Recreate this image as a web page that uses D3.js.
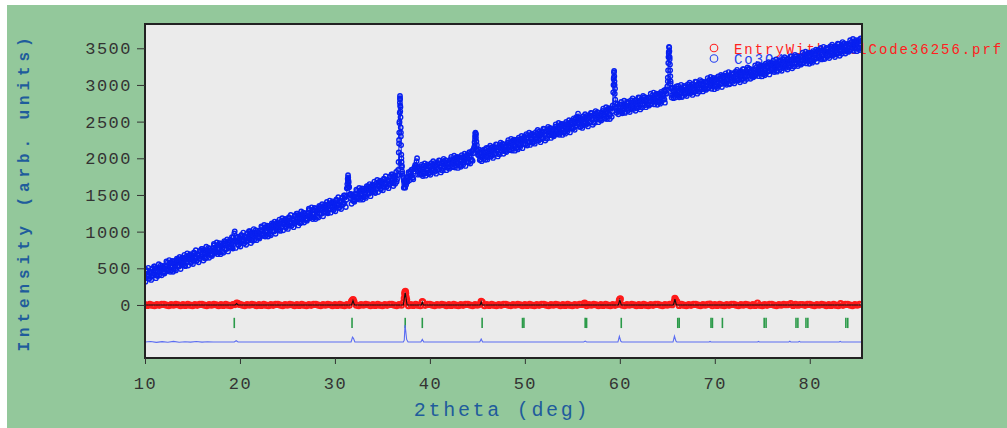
<!DOCTYPE html>
<html>
<head>
<meta charset="utf-8">
<script src="https://cdn.jsdelivr.net/npm/d3@7"></script>
<style>
  body { margin: 0; background: #fff; }
  text { font-family: "Liberation Mono", "DejaVu Sans Mono", monospace; }
</style>
</head>
<body>
<script>
// observed counts, 2theta from 10.00 step 0.1 (one row per degree)
var obsStart = 10, obsStep = 0.1;
var obsCounts = [
  425,365,465,404,359,459,434,389,498,423,
  418,503,403,477,507,407,497,477,531,456,
  506,451,541,575,490,475,575,515,474,569,
  489,569,544,603,528,628,523,593,612,547,
  632,582,542,631,666,586,616,676,585,645,
  665,605,705,644,599,699,674,629,738,663,
  658,743,643,717,747,647,737,717,771,696,
  746,691,781,815,730,715,815,755,714,809,
  729,809,784,843,768,868,763,833,852,787,
  872,822,782,921,976,866,856,916,825,885,
  905,845,945,884,839,939,914,869,978,903,
  898,983,883,957,987,887,977,957,1011,936,
  986,931,1021,1055,970,955,1055,995,954,1049,
  969,1049,1024,1083,1008,1108,1003,1073,1092,1027,
  1112,1062,1022,1111,1146,1066,1096,1156,1065,1125,
  1145,1085,1185,1124,1079,1179,1154,1109,1218,1143,
  1138,1223,1123,1197,1227,1127,1217,1197,1251,1176,
  1226,1171,1261,1295,1210,1195,1295,1235,1194,1289,
  1209,1289,1264,1323,1248,1348,1243,1313,1332,1267,
  1352,1302,1262,1351,1386,1306,1336,1396,1305,1365,
  1385,1326,1426,1367,1323,1424,1399,1355,1466,1391,
  1387,1473,1433,1649,1740,1606,1511,1452,1508,1433,
  1484,1430,1520,1556,1472,1458,1558,1499,1460,1555,
  1476,1557,1532,1593,1519,1620,1515,1586,1607,1542,
  1628,1579,1539,1630,1666,1587,1617,1678,1589,1649,
  1670,1611,1711,1652,1608,1709,1684,1640,1751,1676,
  1672,1758,1658,1734,1765,1681,1770,1950,2500,2700,
  2000,1790,1730,1650,1600,1640,1745,1735,1790,1760,
  1760,1843,1742,1815,1884,1852,1960,1879,1862,1786,
  1834,1777,1866,1899,1813,1796,1894,1833,1791,1885,
  1803,1881,1855,1913,1837,1935,1828,1897,1915,1849,
  1932,1880,1839,1927,1961,1879,1907,1966,1874,1933,
  1951,1889,1988,1926,1880,1978,1951,1905,2013,1937,
  1930,2013,1912,1985,2014,1912,2000,1979,2032,1956,
  2004,1947,2036,2069,1983,1966,2125,2220,2350,2230,
  2110,2040,2065,1985,2070,2015,2090,2030,2085,2020,
  2012,2091,2065,2125,2049,2148,2043,2112,2131,2066,
  2150,2099,2058,2148,2182,2101,2131,2190,2099,2159,
  2178,2117,2216,2156,2110,2209,2184,2138,2247,2172,
  2166,2250,2149,2224,2253,2152,2242,2221,2275,2200,
  2249,2193,2282,2317,2231,2215,2315,2254,2213,2308,
  2227,2306,2280,2340,2264,2363,2258,2327,2346,2281,
  2365,2314,2273,2363,2397,2316,2346,2405,2314,2374,
  2393,2332,2431,2371,2325,2424,2399,2353,2462,2387,
  2381,2465,2364,2439,2468,2367,2457,2436,2490,2415,
  2464,2408,2497,2532,2446,2470,2610,2509,2428,2523,
  2442,2521,2495,2555,2479,2578,2473,2542,2561,2496,
  2580,2529,2488,2578,2612,2531,2561,2620,2529,2589,
  2608,2547,2646,2586,2540,2639,2614,2568,2677,2602,
  2596,2680,2640,2900,3190,2950,2700,2650,2700,2640,
  2649,2733,2631,2705,2733,2632,2721,2699,2753,2676,
  2725,2668,2757,2791,2704,2688,2786,2725,2683,2777,
  2695,2774,2748,2806,2730,2828,2722,2791,2809,2743,
  2826,2775,2733,2822,2855,2774,2803,2861,2770,2828,
  2847,2785,2884,2822,2776,2875,2848,2802,2910,2880,
  2980,3300,3510,3200,2950,2860,2920,2850,2930,2870,
  2867,2950,2849,2922,2951,2849,2938,2916,2970,2893,
  2941,2885,2973,3007,2920,2904,3002,2941,2899,2992,
  2911,2989,2963,3021,2945,3043,2937,3005,3023,2957,
  3040,2989,2947,3036,3069,2988,3016,3074,2983,3041,
  3060,2998,3097,3035,2989,3087,3060,3014,3122,3046,
  3039,3123,3021,3095,3123,3021,3110,3088,3142,3065,
  3114,3057,3146,3179,3092,3076,3174,3113,3071,3165,
  3083,3162,3135,3193,3117,3215,3109,3177,3196,3129,
  3213,3161,3119,3208,3241,3160,3188,3247,3155,3214,
  3232,3171,3269,3207,3161,3259,3233,3186,3295,3218,
  3212,3295,3193,3267,3295,3194,3282,3261,3314,3238,
  3286,3230,3318,3351,3265,3248,3347,3285,3244,3337,
  3256,3334,3307,3366,3289,3388,3281,3350,3368,3302,
  3385,3334,3292,3380,3414,3332,3361,3419,3328,3386,
  3405,3343,3441,3380,3333,3432,3405,3359,3467,3391,
  3384,3468,3366,3439,3468,3366,3455,3433,3487,3410,
  3459,3402,3490,3524,3437,3421,3519,3458,3416,3510,
  3428,3507,3480,3538,3462,3560,3454,3522,3541,3474,
  3558,3506,3464,3553,3586,3505,3533,3592,3500,3559,
  3577,3516,3614,3552,3506
];
// interleaved observed counts, 2theta from 10.05 step 0.1
var obsStartB = 10.05;
var obsCountsB = [
  317,477,392,507,362,456,341,491,401,526,
  525,365,500,395,555,449,539,404,509,439,
  428,538,593,463,503,612,452,577,602,452,
  596,486,471,631,591,530,655,490,620,650,
  554,684,529,579,704,538,638,693,573,683,
  557,717,632,747,602,696,581,731,641,766,
  765,605,740,635,795,689,779,644,749,679,
  668,778,833,703,743,852,692,817,842,692,
  836,726,711,871,831,770,895,730,860,890,
  794,924,769,879,1004,778,878,933,813,923,
  797,957,872,987,842,936,821,971,881,1006,
  1005,845,980,875,1035,929,1019,884,989,919,
  908,1018,1073,943,983,1092,932,1057,1082,932,
  1076,966,951,1111,1071,1010,1135,970,1100,1130,
  1034,1164,1009,1059,1184,1018,1118,1173,1053,1163,
  1037,1197,1112,1227,1082,1176,1061,1211,1121,1246,
  1245,1085,1220,1115,1275,1169,1259,1124,1229,1159,
  1148,1258,1313,1183,1223,1332,1172,1297,1322,1172,
  1316,1206,1191,1351,1311,1250,1375,1210,1340,1370,
  1274,1404,1249,1299,1424,1258,1358,1413,1293,1403,
  1278,1439,1354,1470,1326,1421,1307,1458,1369,1494,
  1495,1336,1591,1717,1673,1504,1514,1380,1486,1416,
  1407,1518,1573,1444,1485,1596,1436,1562,1588,1438,
  1584,1475,1460,1621,1582,1523,1648,1484,1615,1645,
  1551,1682,1527,1578,1704,1540,1640,1696,1577,1687,
  1563,1724,1639,1755,1611,1707,1592,1743,1654,1779,
  1780,1621,1756,1652,1813,1715,1840,2250,2820,2350,
  1900,1760,1690,1610,1660,1700,1680,1810,1700,1820,
  1842,1730,1714,1872,1911,1899,2002,1776,1854,1883,
  1786,1914,1758,1806,1930,1763,1861,1915,1793,1902,
  1775,1933,1847,1960,1814,1907,1790,1939,1847,1971,
  1969,1807,1941,1834,1993,1886,1974,1838,1941,1870,
  1858,1966,2020,1888,1927,2035,1873,1997,2020,1869,
  2012,1900,1884,2042,2001,1939,2062,1896,2024,2053,
  1956,2084,1928,1976,2100,2070,2150,2260,2330,2180,
  2050,2120,1975,2020,1960,2110,1990,2120,1980,2140,
  1984,2143,2057,2172,2026,2120,2005,2154,2063,2188,
  2187,2026,2160,2055,2214,2108,2198,2062,2166,2096,
  2085,2194,2248,2118,2157,2266,2106,2230,2254,2104,
  2248,2137,2121,2281,2240,2179,2304,2138,2267,2297,
  2201,2330,2174,2224,2348,2182,2282,2336,2215,2325,
  2199,2358,2272,2387,2241,2335,2220,2369,2278,2403,
  2402,2241,2375,2270,2429,2323,2413,2277,2381,2311,
  2300,2409,2463,2333,2372,2481,2321,2445,2469,2319,
  2463,2352,2336,2496,2455,2394,2519,2353,2482,2512,
  2416,2545,2389,2439,2563,2477,2557,2551,2430,2540,
  2414,2573,2487,2602,2456,2550,2435,2584,2493,2618,
  2617,2456,2590,2485,2644,2538,2628,2492,2596,2526,
  2515,2624,2678,2548,2587,2696,2536,2660,2684,2534,
  2678,2565,2720,3080,3000,2690,2620,2740,2600,2735,
  2641,2769,2613,2662,2785,2619,2717,2771,2649,2758,
  2631,2790,2704,2817,2671,2764,2648,2796,2705,2829,
  2827,2666,2799,2693,2851,2745,2834,2697,2801,2729,
  2718,2826,2880,2748,2787,2896,2734,2858,2881,2730,
  2873,2762,2745,2904,2863,2801,2925,2758,2940,2890,
  3050,3430,3350,3050,2830,2960,2820,2960,2830,2980,
  2859,2987,2831,2879,3002,2836,2934,2988,2866,2975,
  2848,3007,2920,3033,2887,2980,2864,3012,2921,3044,
  3043,2881,3015,2908,3066,2960,3048,2912,3015,2944,
  2932,3041,3094,2962,3001,3109,2948,3071,3095,2943,
  3087,2975,2958,3117,3075,3014,3137,2971,3099,3128,
  3031,3159,3003,3051,3175,3008,3107,3160,3039,3147,
  3021,3179,3092,3206,3059,3153,3036,3185,3093,3217,
  3215,3053,3187,3080,3239,3132,3221,3084,3188,3116,
  3105,3213,3266,3135,3173,3282,3120,3244,3267,3116,
  3259,3147,3131,3289,3248,3186,3310,3143,3272,3300,
  3204,3332,3175,3224,3347,3181,3279,3333,3211,3320,
  3193,3351,3265,3378,3232,3325,3209,3357,3266,3389,
  3388,3226,3359,3253,3411,3305,3393,3257,3360,3289,
  3277,3385,3439,3307,3346,3454,3293,3416,3440,3288,
  3432,3320,3303,3462,3420,3359,3482,3316,3444,3473,
  3376,3504,3348,3396,3520,3353,3452,3505,3384,3492,
  3366,3524,3437,3551,3404,3498,3381,3530,3438,3562,
  3560,3398,3532,3425,3584,3477,3566,3429,3533,3461,
  3450,3558,3611,3480,3518,3627,3465,3589,3612,3461,
  3604,3492,3476,3634,3593
];
// extra observed points read inside the sharp peaks [2theta, counts]
var obsPeakPts = [
  [31.33,1600],[31.35,1720],[31.37,1680],[31.38,1770],[31.42,1700],[31.45,1620],
  [36.72,2080],[36.75,2200],[36.77,2350],[36.79,2480],[36.82,2620],[36.84,2760],
  [36.85,2850],[36.86,2800],[36.87,2720],[36.88,2640],[36.91,2560],[36.93,2420],
  [36.95,2300],[36.97,2180],[36.99,2050],[37.02,1950],[37.05,1880],[37.08,1820],
  [37.25,1600],[37.35,1690],[37.45,1700],
  [44.72,2180],[44.75,2300],[44.78,2340],[44.82,2320],[44.85,2280],[44.88,2120],
  [59.33,3000],[59.36,3100],[59.38,3170],[59.42,3120],[59.44,3050],[59.47,2880],
  [59.52,2800],[59.55,2750],
  [65.05,3100],[65.08,3200],[65.12,3380],[65.15,3450],[65.18,3520],[65.22,3460],
  [65.25,3380],[65.28,3280],[65.32,3120],[65.35,3020],[65.38,2960]
];

// .prf pattern near zero, 2theta from 10.0 step 0.25
var prfStart = 10, prfStep = 0.25;
var prfCounts = [
  5,-7,9,-3, -9,4,-5,8, 7,-2,-8,6, -4,9,3,-10, 5,-7,9,-3,
  -9,4,-5,8, 7,-2,-8,6, -4,9,3,-10, 5,-7,9,-3, -9,4,5,23,
  7,-2,-8,6, -4,9,3,-10, 5,-7,9,-3, -9,4,-5,8, 7,-2,-8,6,
  -4,9,3,-10, 5,-7,9,-3, -9,4,-5,8, 7,-2,-8,6, -4,9,3,-10,
  5,-7,9,-3, -9,4,-5,48, 47,-2,-8,6, -4,9,3,-10, 5,-7,9,-3,
  -9,4,-5,8, 7,-2,-8,6, -4,39,103,-10, 5,-7,9,-3, -9,39,-5,8,
  7,-2,-8,6, -4,9,3,-10, 5,-7,9,-3, -9,4,-5,8, 7,-2,-8,6,
  -4,9,38,-10, 5,-7,9,-3, -9,4,-5,8, 7,-2,-8,6, -4,9,3,-10,
  5,-7,9,-3, -9,4,-5,8, 7,-2,-8,6, -4,9,3,-10, 5,-7,9,-3,
  -9,4,-5,8, 7,18,-8,6, -4,9,3,-10, 5,-7,9,-3, -9,4,-5,8,
  77,-2,-8,6, -4,9,3,-10, 5,-7,9,-3, -9,4,-5,8, 7,-2,-8,6,
  -4,9,3,50, 45,-7,9,-3, -9,4,-5,8, 7,-2,-8,6, -4,9,11,-10,
  5,-7,9,-3, -9,4,-5,8, 7,-2,-8,6, -4,9,3,-10, 5,-7,24,-3,
  -9,4,-5,8, 7,-2,-8,6, -4,9,3,5, 20,-7,9,-3, 6,4,-5,8,
  7,-2,-8,6, -4,9,3,-10, 5,-7,9,-3, -9,19,-5,8, 7,-2,-8,6,
  -4,9
];
var prfPeakPts = [
  [19.65,25],[31.85,65],[31.92,72],[37.3,90],[37.35,150],[37.38,175],[37.42,185],
  [37.45,160],[37.55,70],[39.2,45],[45.4,50],[56.3,25],[59.95,60],[60.05,82],
  [65.8,90],[65.85,72]
];

// black calc line through the .prf points
var calcLine = [
  [10,0],[19.5,0],[19.65,20],[19.8,0],[31.75,0],[31.9,60],[32.05,0],[37.2,0],
  [37.4,170],[37.6,0],[39.1,0],[39.2,40],[39.3,0],[45.3,0],[45.4,45],[45.5,0],
  [59.85,0],[60.0,70],[60.15,0],[65.65,0],[65.8,80],[65.95,0],[85.5,0]
];

// thin blue line at the bottom (offset pattern)
var lowLine = [
  [10,-505],[10.6,-498],[11.2,-510],[11.8,-500],[12.4,-508],[13,-497],[13.6,-509],
  [14.2,-501],[14.8,-507],[15.4,-499],[16,-506],[16.6,-502],[17.2,-505],[19.4,-505],
  [19.6,-488],[19.8,-505],[31.7,-505],[31.85,-440],[31.95,-455],[32.1,-505],
  [37.2,-505],[37.3,-480],[37.38,-275],[37.45,-350],[37.55,-470],[37.7,-505],
  [39.05,-505],[39.2,-470],[39.35,-505],[45.25,-505],[45.4,-465],[45.55,-505],
  [56.2,-505],[56.35,-493],[56.5,-505],[59.8,-505],[59.95,-428],[60.1,-495],
  [60.2,-505],[65.6,-505],[65.75,-425],[65.9,-490],[66.0,-505],[69.4,-505],
  [69.5,-498],[69.6,-505],[74.5,-505],[74.6,-497],[74.7,-505],[77.8,-505],
  [77.9,-494],[78.0,-505],[78.8,-505],[78.9,-496],[79.0,-505],[83.1,-505],
  [83.2,-496],[83.3,-505],[85.5,-505]
];

// Bragg reflection positions
var braggPos = [19.4, 31.8, 37.4, 39.2, 45.5, 49.75, 49.9, 56.35, 56.5, 60.15,
  66.1, 66.25, 69.6, 69.75, 70.8, 75.2, 75.4, 78.55, 78.75, 79.6, 79.8, 83.8, 84.0];
var braggTop = -175, braggBottom = -315;

var xTicks = [10, 20, 30, 40, 50, 60, 70, 80];
var yTicks = [0, 500, 1000, 1500, 2000, 2500, 3000, 3500];
var legendNames = ["EntryWithCollCode36256.prf", "Co3O4"];

var W = 1007, H = 428;
var plot = { left: 145, right: 862, top: 24, bottom: 358 };

var svg = d3.select("body").append("svg")
  .attr("width", W)
  .attr("height", H);

svg.append("rect")
  .attr("x", 7).attr("y", 5)
  .attr("width", W - 7).attr("height", H - 5)
  .attr("fill", "#93c89b");

var x = d3.scaleLinear().domain([10, 85.5]).range([plot.left, plot.right]);
var y = d3.scaleLinear().domain([-723, 3831]).range([plot.bottom, plot.top]);

svg.append("rect")
  .attr("x", plot.left).attr("y", plot.top)
  .attr("width", plot.right - plot.left).attr("height", plot.bottom - plot.top)
  .attr("fill", "#ebebeb");

// legend (drawn under the data, like the original)
var legendColors = ["#ff2020", "#2540f0"];
var leg = svg.append("g");
legendNames.forEach(function(name, i) {
  leg.append("circle")
    .attr("cx", 714).attr("cy", 48 + i * 10.5).attr("r", 3.8)
    .attr("fill", "none").attr("stroke", legendColors[i]).attr("stroke-width", 1.1);
  leg.append("text")
    .attr("x", 734).attr("y", 54 + i * 10)
    .attr("fill", legendColors[i])
    .style("font-size", "14px")
    .style("letter-spacing", "1.95px")
    .text(name);
});

svg.append("clipPath").attr("id", "clip")
  .append("rect")
  .attr("x", plot.left).attr("y", plot.top)
  .attr("width", plot.right - plot.left).attr("height", plot.bottom - plot.top);

var g = svg.append("g").attr("clip-path", "url(#clip)");

// Bragg ticks
g.selectAll(".bragg")
  .data(braggPos)
  .enter().append("line")
  .attr("class", "bragg")
  .attr("x1", function(d) { return x(d); })
  .attr("x2", function(d) { return x(d); })
  .attr("y1", y(braggTop))
  .attr("y2", y(braggBottom))
  .attr("stroke", "#2a9a48")
  .attr("stroke-width", 1.6);

var line = d3.line()
  .x(function(d) { return x(d[0]); })
  .y(function(d) { return y(d[1]); });

g.append("path")
  .datum(lowLine)
  .attr("d", line)
  .attr("fill", "none")
  .attr("stroke", "#5a6cf2")
  .attr("stroke-width", 1.1);

// .prf points
var prfPts = prfCounts.map(function(v, i) { return [prfStart + i * prfStep, v]; })
  .concat(prfPeakPts)
  .sort(function(a, b) { return a[0] - b[0]; });

g.selectAll(".prf")
  .data(prfPts)
  .enter().append("circle")
  .attr("class", "prf")
  .attr("cx", function(d) { return x(d[0]); })
  .attr("cy", function(d) { return y(d[1]); })
  .attr("r", 2.6)
  .attr("fill", "none")
  .attr("stroke", "#ff1a1a")
  .attr("stroke-width", 2);

g.append("path")
  .datum(calcLine)
  .attr("d", line)
  .attr("fill", "none")
  .attr("stroke", "#111")
  .attr("stroke-width", 1.1);

// observed data
var obsMain = obsCounts.map(function(v, i) { return [obsStart + i * obsStep, v]; })
  .concat(obsPeakPts)
  .sort(function(a, b) { return a[0] - b[0]; });
var obsAll = obsMain.concat(obsCountsB.map(function(v, i) { return [obsStartB + i * obsStep, v]; }));

g.append("path")
  .datum(obsMain)
  .attr("d", line)
  .attr("fill", "none")
  .attr("stroke", "#0820f0")
  .attr("stroke-width", 1);

g.selectAll(".obs")
  .data(obsAll)
  .enter().append("circle")
  .attr("class", "obs")
  .attr("cx", function(d) { return x(d[0]); })
  .attr("cy", function(d) { return y(d[1]); })
  .attr("r", 2.2)
  .attr("fill", "none")
  .attr("stroke", "#0820f0")
  .attr("stroke-width", 1.4);

// frame
svg.append("rect")
  .attr("x", plot.left).attr("y", plot.top)
  .attr("width", plot.right - plot.left).attr("height", plot.bottom - plot.top)
  .attr("fill", "none")
  .attr("stroke", "#222")
  .attr("stroke-width", 2);

// axes
var xAxis = svg.append("g")
  .attr("transform", "translate(0," + plot.bottom + ")")
  .call(d3.axisBottom(x).tickValues(xTicks).tickSize(6).tickPadding(13)
    .tickFormat(d3.format("d")));

var yAxis = svg.append("g")
  .attr("transform", "translate(" + plot.left + ",0)")
  .call(d3.axisLeft(y).tickValues(yTicks).tickSize(8).tickPadding(5)
    .tickFormat(d3.format("d")));

[xAxis, yAxis].forEach(function(a) {
  a.select(".domain").remove();
  a.selectAll(".tick line").attr("stroke", "#333");
  a.selectAll(".tick text")
    .attr("fill", "#333")
    .style("font-family", '"Liberation Mono", "DejaVu Sans Mono", monospace')
    .style("font-size", "17px")
    .style("letter-spacing", "1.5px");
});

svg.append("text")
  .attr("transform", "translate(23,192) rotate(-90)")
  .attr("text-anchor", "middle")
  .attr("dy", "0.35em")
  .attr("fill", "#1f5c9c")
  .style("font-size", "16px")
  .style("font-weight", "bold")
  .style("letter-spacing", "4.9px")
  .text("Intensity (arb. units)");

svg.append("text")
  .attr("x", 502).attr("y", 416)
  .attr("text-anchor", "middle")
  .attr("fill", "#1f5c9c")
  .style("font-size", "20px")
  .style("letter-spacing", "2.7px")
  .text("2theta (deg)");
</script>
</body>
</html>
